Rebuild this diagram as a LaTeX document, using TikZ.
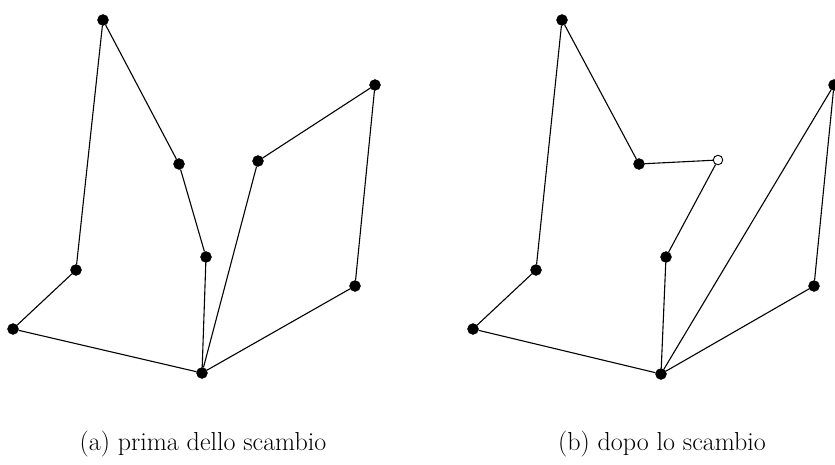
\documentclass[tikz,border=0pt]{standalone}
\begin{document}
\begin{tikzpicture}[x=1pt,y=-1pt,
  vtx/.style={circle,fill=black,draw=black,inner sep=0pt,minimum size=11pt},
  wvtx/.style={circle,fill=white,draw=black,line width=0.9pt,inner sep=0pt,minimum size=9.5pt},
  edge/.style={line width=1.1pt},
  captxt/.style={font=\fontsize{26}{30}\selectfont,anchor=base}]
\useasboundingbox (0,0) rectangle (835,464);
% left graph
\node[vtx] (a1) at (103,20) {};
\node[vtx] (b1) at (179,164) {};
\node[vtx] (c1) at (206,257) {};
\node[vtx] (d1) at (202,373) {};
\node[vtx] (e1) at (13,329) {};
\node[vtx] (f1) at (76,270) {};
\node[vtx] (g1) at (258,161) {};
\node[vtx] (h1) at (375,85) {};
\node[vtx] (i1) at (355,286) {};
\draw[edge] (a1) -- (f1) -- (e1) -- (d1) -- (c1) -- (b1) -- (a1);
\draw[edge] (d1) -- (g1) -- (h1) -- (i1) -- (d1);
% right graph
\node[vtx] (a2) at (562,20) {};
\node[vtx] (b2) at (639,164) {};
\node[wvtx] (w2) at (718,160) {};
\node[vtx] (c2) at (666,257) {};
\node[vtx] (d2) at (661,374) {};
\node[vtx] (e2) at (473,329) {};
\node[vtx] (f2) at (536,270) {};
\node[vtx] (h2) at (834,85) {};
\node[vtx] (i2) at (814,286) {};
\draw[edge] (a2) -- (f2) -- (e2) -- (d2) -- (c2) -- (w2) -- (b2) -- (a2);
\draw[edge] (d2) -- (h2) -- (i2) -- (d2);
% captions
\node[captxt] (capa) at (203,450) {(a) prima dello scambio};
\node[captxt] (capb) at (662,450) {(b) dopo lo scambio};
\end{tikzpicture}
\end{document}
